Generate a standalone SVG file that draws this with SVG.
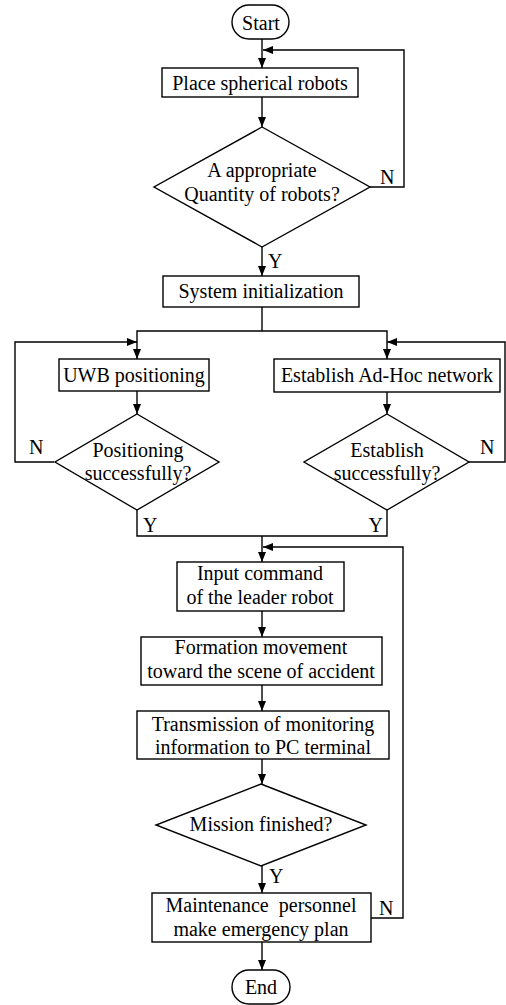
<svg xmlns="http://www.w3.org/2000/svg" width="506" height="1005" viewBox="0 0 506 1005" font-family="Liberation Serif, Times New Roman, Tinos, serif" font-size="20">
<style>
.s{fill:#fff;stroke:#000;stroke-width:1.4}
.c{fill:none;stroke:#000;stroke-width:1.4}
text{fill:#000}
.m{text-anchor:middle}
</style>
<defs>
<marker id="a" markerUnits="userSpaceOnUse" markerWidth="11" markerHeight="9" refX="10" refY="4" orient="auto">
<path d="M0,0 L10,4 L0,8 z" fill="#000"/>
</marker>
</defs>
<rect width="506" height="1005" fill="#fff"/>
<g id="connectors">
<path class="c" d="M262,39 V68" marker-end="url(#a)"/>
<path class="c" d="M262,97 V127" marker-end="url(#a)"/>
<path class="c" d="M370,187 H404 V50 H263" marker-end="url(#a)"/>
<path class="c" d="M262,247 V276" marker-end="url(#a)"/>
<path class="c" d="M262,307 V331"/>
<path class="c" d="M262,331 H137 V359" marker-end="url(#a)"/>
<path class="c" d="M262,331 H387 V359" marker-end="url(#a)"/>
<path class="c" d="M54,462 H15 V342 H137" marker-end="url(#a)"/>
<path class="c" d="M469,462 H505 V342 H387" marker-end="url(#a)"/>
<path class="c" d="M137,391 V414" marker-end="url(#a)"/>
<path class="c" d="M387,392 V414" marker-end="url(#a)"/>
<path class="c" d="M137,510 V536 H387 V510"/>
<path class="c" d="M262,536 V562" marker-end="url(#a)"/>
<path class="c" d="M371,918 H403 V547 H263" marker-end="url(#a)"/>
<path class="c" d="M262,611 V637" marker-end="url(#a)"/>
<path class="c" d="M262,685 V711" marker-end="url(#a)"/>
<path class="c" d="M262,759 V784" marker-end="url(#a)"/>
<path class="c" d="M262,866 V893" marker-end="url(#a)"/>
<path class="c" d="M262,942 V970" marker-end="url(#a)"/>
<text x="380" y="184">N</text>
<text x="268" y="268">Y</text>
<text x="29" y="454">N</text>
<text x="480" y="454">N</text>
<text x="143" y="532">Y</text>
<text x="383" y="532" text-anchor="end">Y</text>
<text x="269" y="883">Y</text>
<text x="379" y="915">N</text>
</g>
<g id="start"><rect class="s" x="232" y="5" width="57" height="34" rx="17"/><text class="m" x="261" y="30">Start</text></g>
<g id="place"><rect class="s" x="162" y="68" width="196" height="29"/><text class="m" x="260" y="90">Place spherical robots</text></g>
<g id="quantity"><polygon class="s" points="262,127 370,187 262,247 154,187"/><text class="m" x="262" y="177">A appropriate</text><text class="m" x="262" y="201">Quantity of robots?</text></g>
<g id="init"><rect class="s" x="163" y="276" width="196" height="31"/><text class="m" x="261" y="298">System initialization</text></g>
<g id="uwb"><rect class="s" x="59" y="359" width="150" height="32"/><text class="m" x="134" y="382">UWB positioning</text></g>
<g id="adhoc"><rect class="s" x="274" y="359" width="226" height="33"/><text class="m" x="387" y="382">Establish Ad-Hoc network</text></g>
<g id="posok"><polygon class="s" points="137,414 219,462 137,510 55,462"/><text class="m" x="138" y="457">Positioning</text><text class="m" x="138" y="480">successfully?</text></g>
<g id="estok"><polygon class="s" points="387,414 469,462 387,510 304,462"/><text class="m" x="387" y="457">Establish</text><text class="m" x="387" y="480">successfully?</text></g>
<g id="input"><rect class="s" x="177" y="562" width="167" height="49"/><text class="m" x="260" y="580">Input command</text><text class="m" x="260" y="604">of the leader robot</text></g>
<g id="formation"><rect class="s" x="141" y="637" width="241" height="48"/><text class="m" x="261" y="654">Formation movement</text><text class="m" x="261" y="678">toward the scene of accident</text></g>
<g id="transmission"><rect class="s" x="137" y="711" width="252" height="48"/><text class="m" x="263" y="731">Transmission of monitoring</text><text class="m" x="263" y="754">information to PC terminal</text></g>
<g id="mission"><polygon class="s" points="261,784 366,825 261,866 156,825"/><text class="m" x="261" y="831">Mission finished?</text></g>
<g id="maint"><rect class="s" x="152" y="893" width="219" height="49"/><text class="m" x="261" y="912" xml:space="preserve">Maintenance  personnel</text><text class="m" x="261" y="936">make emergency plan</text></g>
<g id="end"><rect class="s" x="232" y="970" width="58" height="34" rx="17"/><text class="m" x="261" y="994">End</text></g>
</svg>
